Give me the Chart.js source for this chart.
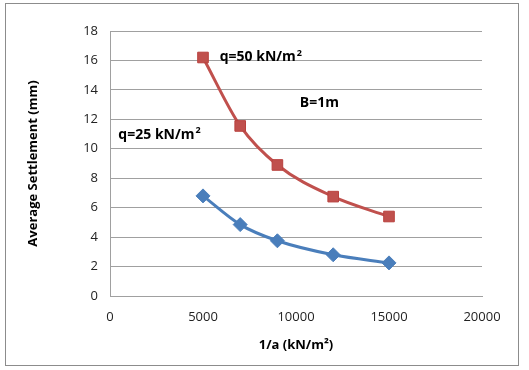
<!DOCTYPE html>
<html>
<head>
<meta charset="utf-8">
<script src="https://cdn.jsdelivr.net/npm/chart.js@4"></script>
<style>
  body { margin: 0; background: #fff; }
  #wrap { position: relative; width: 529px; height: 370px; }
  #frame { position: absolute; left: 5px; top: 3px; width: 512px; height: 361px; border: 1px solid #8c8c8c; pointer-events: none; }
</style>
</head>
<body>
<div id="wrap">
  <canvas id="settle" width="529" height="370"></canvas>
  <div id="frame"></div>
</div>
<script>
// 1/a values (kN/m2)
const xValues = [5000, 7000, 9000, 12000, 15000]
// settlement, mm
const q50 = [16.2, 11.55, 8.9, 6.75, 5.4]
const q25 = [6.8, 4.85, 3.75, 2.8, 2.25]
const yTicks = [0, 2, 4, 6, 8, 10, 12, 14, 16, 18]
const xTicks = [0, 5000, 10000, 15000, 20000]

// text labels put on the plot, in data units
const notes = [
    { text: "q=50 kN/m", sup: "2", x: 5900, y: 16.2 },
    { text: "B=1m", sup: "", x: 10200, y: 13.1 },
    { text: "q=25 kN/m", sup: "2", x: 450, y: 10.95 }
]

const fontName = "'Open Sans', Lato, sans-serif"

function toPoints(ys) {
    return xValues.map(function (x, i) {
        return { x: x, y: ys[i] }
    })
}

const notePlugin = {
    id: "notes",
    afterDatasetsDraw(chart) {
        const ctx = chart.ctx
        const sx = chart.scales.x
        const sy = chart.scales.y
        ctx.save()
        ctx.fillStyle = "#000"
        ctx.textBaseline = "middle"
        notes.forEach(function (n) {
            const px = sx.getPixelForValue(n.x)
            const py = sy.getPixelForValue(n.y)
            ctx.font = "bold 14px " + fontName
            ctx.fillText(n.text, px, py)
            if (n.sup) {
                const w = ctx.measureText(n.text).width
                ctx.font = "bold 9px " + fontName
                ctx.fillText(n.sup, px + w + 1, py - 4)
            }
        })
        ctx.restore()
    }
}

const config = {
    type: "line",
    data: {
        datasets: [
            {
                label: "q=50",
                data: toPoints(q50),
                borderColor: "#c0504d",
                backgroundColor: "#c0504d",
                borderWidth: 3,
                pointStyle: "rect",
                pointRadius: 7.5,
                pointBorderColor: "#b9413e",
                pointBorderWidth: 1,
                tension: 0.4,
                cubicInterpolationMode: "monotone"
            },
            {
                label: "q=25",
                data: toPoints(q25),
                borderColor: "#4a7ebb",
                backgroundColor: "#4a7ebb",
                borderWidth: 3,
                pointStyle: "rectRot",
                pointRadius: 7,
                pointBorderColor: "#4a7ebb",
                pointBorderWidth: 1,
                tension: 0.4,
                cubicInterpolationMode: "monotone"
            }
        ]
    },
    options: {
        responsive: false,
        animation: false,
        layout: { padding: { top: 31, right: 47, left: 0, bottom: 0 } },
        plugins: {
            legend: { display: false },
            tooltip: { enabled: false }
        },
        scales: {
            x: {
                type: "linear",
                min: 0,
                max: 20000,
                afterBuildTicks(scale) {
                    scale.ticks = xTicks.map(v => ({ value: v }))
                },
                afterFit(scale) { scale.height = 74 },
                grid: { display: false, drawTicks: false },
                border: { color: "#a0a0a0", width: 1 },
                ticks: {
                    color: "#222",
                    padding: 13,
                    callback: v => String(v),
                    font: { family: fontName, size: 13 }
                },
                title: {
                    display: true,
                    text: "1/a (kN/m²)",
                    color: "#000",
                    padding: { top: 6, bottom: 17 },
                    font: { family: fontName, size: 13, weight: "bold" }
                }
            },
            y: {
                min: 0,
                max: 18,
                afterBuildTicks(scale) {
                    scale.ticks = yTicks.map(v => ({ value: v }))
                },
                afterFit(scale) { scale.width = 110 },
                grid: { color: "#a0a0a0", drawTicks: false },
                border: { color: "#a0a0a0", width: 1 },
                ticks: {
                    color: "#222",
                    padding: 12,
                    font: { family: fontName, size: 13 }
                },
                title: {
                    display: true,
                    text: "Average Settlement (mm)",
                    color: "#000",
                    padding: { top: 25, bottom: 0 },
                    font: { family: fontName, size: 13, weight: "bold" }
                }
            }
        }
    },
    plugins: [notePlugin]
}

const myChart = new Chart(document.getElementById("settle"), config)
</script>
</body>
</html>
